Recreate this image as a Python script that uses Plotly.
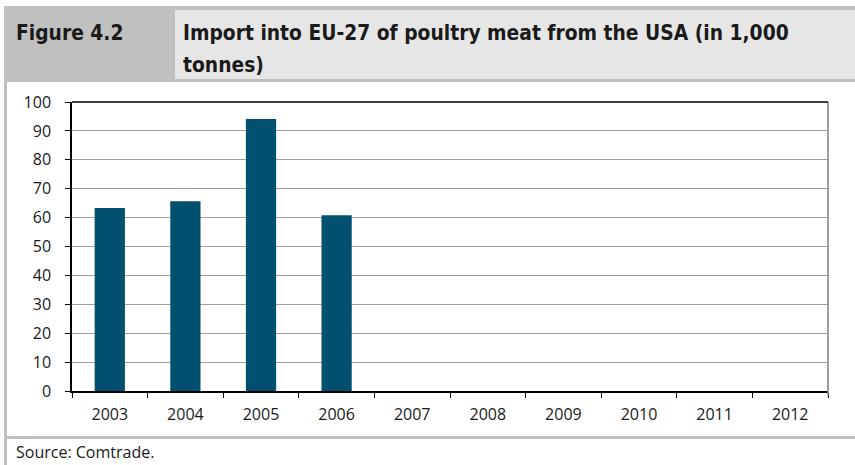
import plotly.graph_objects as go

years = ["2003", "2004", "2005", "2006", "2007", "2008", "2009", "2010", "2011", "2012"]
imports = [63.3, 65.7, 94.1, 60.8, None, None, None, None, None, None]
y_ticks = [0, 10, 20, 30, 40, 50, 60, 70, 80, 90, 100]

BAR = "#02506f"
FRAME = "#c0c0c0"
LIGHT = "#e6e6e6"
W, H = 855, 465
L, R, T, B = 72, 828, 102, 391

fig = go.Figure()
fig.add_trace(go.Bar(x=years, y=imports, marker=dict(color=BAR, line=dict(width=0)),
                     width=0.4, hoverinfo="x+y"))

# paper coordinates are relative to the plot area
def px_x(v):
    return (v - L) / (R - L)

def px_y(v):
    return (B - v) / (B - T)

TITLE_FONT = dict(family="DejaVu Sans Condensed, Liberation Sans Narrow, sans-serif",
                  size=20.8, color="#1a1a1a")

shapes = [
    dict(type="rect", xref="paper", yref="paper", x0=px_x(4), x1=px_x(W + 2), y0=px_y(82), y1=px_y(6),
         fillcolor=FRAME, line=dict(width=0), layer="below"),
    dict(type="rect", xref="paper", yref="paper", x0=px_x(175), x1=px_x(W + 2), y0=px_y(79), y1=px_y(10),
         fillcolor=LIGHT, line=dict(width=0), layer="below"),
    dict(type="rect", xref="paper", yref="paper", x0=px_x(4), x1=px_x(7), y0=px_y(H + 2), y1=px_y(82),
         fillcolor=FRAME, line=dict(width=0)),
    dict(type="rect", xref="paper", yref="paper", x0=px_x(4), x1=px_x(W + 2), y0=px_y(439), y1=px_y(436),
         fillcolor=FRAME, line=dict(width=0)),
    dict(type="line", xref="paper", yref="paper", x0=px_x(828), x1=px_x(828), y0=px_y(396), y1=px_y(102),
         line=dict(color="#808080", width=1.5)),
    dict(type="line", xref="paper", yref="paper", x0=px_x(72), x1=px_x(828), y0=px_y(102), y1=px_y(102),
         line=dict(color="#000000", width=1.5)),
]

annotations = [
    dict(text="<b>Figure 4.2</b>", xref="paper", yref="paper", x=px_x(14), y=px_y(33),
         xanchor="left", yanchor="middle", showarrow=False, font=TITLE_FONT),
    dict(text="<b>Import into EU-27 of poultry meat from the USA (in 1,000</b>", xref="paper", yref="paper",
         x=px_x(181), y=px_y(33), xanchor="left", yanchor="middle", showarrow=False, font=TITLE_FONT),
    dict(text="<b>tonnes)</b>", xref="paper", yref="paper",
         x=px_x(181), y=px_y(65), xanchor="left", yanchor="middle", showarrow=False, font=TITLE_FONT),
    dict(text="Source: Comtrade.", xref="paper", yref="paper", x=px_x(14), y=px_y(452),
         xanchor="left", yanchor="middle", showarrow=False,
         font=dict(family="Open Sans, sans-serif", size=16, color="#1a1a1a")),
]

fig.update_layout(
    width=W, height=H,
    margin=dict(l=L, r=W - R, t=T, b=H - B, autoexpand=False),
    paper_bgcolor="white", plot_bgcolor="white",
    showlegend=False,
    shapes=shapes, annotations=annotations,
    font=dict(family="Open Sans, sans-serif", size=16, color="#1a1a1a"),
    xaxis=dict(type="category", categoryorder="array", categoryarray=years,
               showline=True, linecolor="#000000", linewidth=1.5,
               ticks="outside", tickson="boundaries", ticklen=5, tickcolor="#000000", tickwidth=1.2,
               showgrid=False, tickfont=dict(size=16), ticklabelstandoff=8, fixedrange=True),
    yaxis=dict(range=[0, 100], tickvals=y_ticks, showline=True, linecolor="#000000", linewidth=1.5,
               ticks="outside", ticklen=5, tickcolor="#000000", tickwidth=1.2,
               showgrid=True, gridcolor="#a0a0a0", gridwidth=1.3, zeroline=False,
               tickfont=dict(size=16), ticklabelstandoff=11, fixedrange=True),
)

fig.write_html("out.html", config={"displayModeBar": False},
               post_script="document.body.style.margin='0';document.body.style.overflow='hidden';")
